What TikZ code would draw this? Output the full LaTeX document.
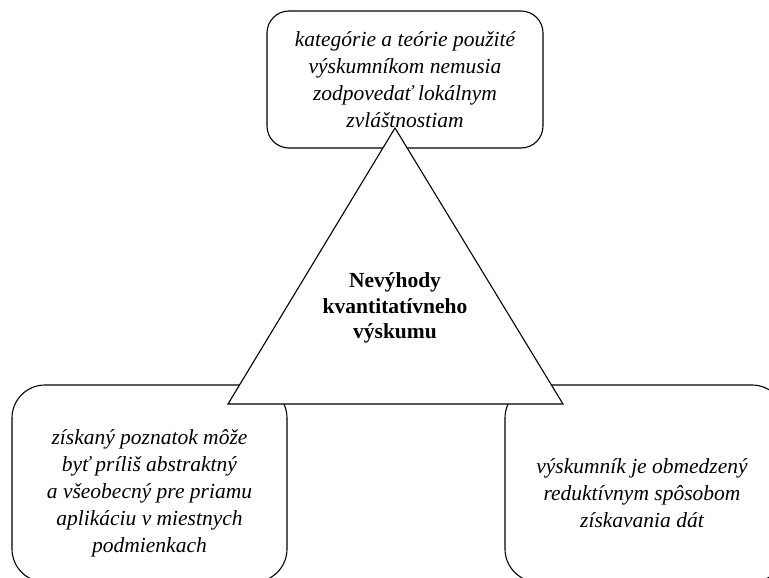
\documentclass[tikz,border=0pt]{standalone}
\usepackage{fontspec}
\setmainfont{Liberation Serif}
\usetikzlibrary{positioning}

\begin{document}
\begin{tikzpicture}[x=1pt,y=-1pt,
	box/.style={draw, line width=1.1pt, rounded corners=22pt, inner sep=0pt},
	boxtext/.style={align=center, font=\fontsize{21.5}{27}\selectfont\itshape},
	core/.style={align=center, font=\fontsize{21.5}{25.5}\selectfont\bfseries}]
	\useasboundingbox (0,0) rectangle (769,578);
	\clip (0,0) rectangle (769,578);

	% three boxes
	\node[box, minimum width=276pt, minimum height=137pt] (top) at (405,79.5) {};
	\node[box, rounded corners=33pt, minimum width=275pt, minimum height=197pt] (left) at (149.5,483.5) {};
	\node[box, rounded corners=33pt, minimum width=280pt, minimum height=197pt] (right) at (645,483.5) {};

	\node[boxtext] (topText) at (top.center)
		{kategórie a teórie použité\\výskumníkom nemusia\\zodpovedať lokálnym\\zvláštnostiam};
	\node[boxtext] (leftText) at ([yshift=-10pt]left.center)
		{získaný poznatok môže\\byť príliš abstraktný\\a všeobecný pre priamu\\aplikáciu v miestnych\\podmienkach};
	\node[boxtext] (rightText) at ([xshift=-3pt,yshift=-10pt]right.center)
		{výskumník je obmedzený\\reduktívnym spôsobom\\získavania dát};

	% triangle in the middle
	\coordinate (apex) at (395,128);
	\coordinate (baseL) at (228,404);
	\coordinate (baseR) at (563,404);
	\draw[line width=1.1pt, fill=white] (apex) -- (baseR) -- (baseL) -- cycle;
	\node[core] (title) at (395,308) {Nevýhody\\kvantitatívneho\\výskumu};
\end{tikzpicture}
\end{document}
